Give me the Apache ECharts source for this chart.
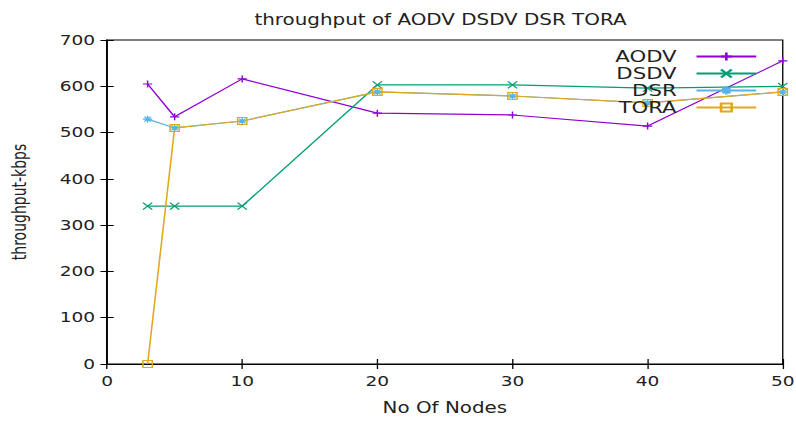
<!DOCTYPE html>
<html>
<head>
<meta charset="utf-8">
<script src="https://cdn.jsdelivr.net/npm/echarts@6/dist/echarts.min.js"></script>
<style>
  html, body { margin: 0; padding: 0; background: #fff; overflow: hidden; }
  /* the reference is a 600px wide plot stretched to 796px, so draw at 600 and stretch */
  #chart { width: 600px; height: 421px; transform: scaleX(1.3267); transform-origin: 0 0; }
</style>
</head>
<body>
<div id="chart"></div>
<script>
const nodes = [3, 5, 10, 20, 30, 40, 50];
const aodv = [605, 534, 616, 542, 538, 514, 655];
const dsdv = [341, 341, 341, 603, 603, 596, 600];
const dsr = [529, 510, 525, 588, 579, 564, 588];
const tora = [0, 510, 525, 588, 579, 564, 588];

const font = 'DejaVu Sans';
const plus = 'path://M0,5L10,5M5,0L5,10';
const cross = 'path://M0,0L10,10M10,0L0,10';
const star = 'path://M0,5L10,5M5,0L5,10M1.5,1.5L8.5,8.5M8.5,1.5L1.5,8.5';
const box = 'path://M0,0L10,0L10,10L0,10Z';

function pairs(vals) {
  return nodes.map((n, i) => [n, vals[i]]);
}

function makeSeries(name, vals, color, symbol) {
  return {
    name: name,
    type: 'line',
    data: pairs(vals),
    symbol: symbol,
    symbolSize: 7,
    showAllSymbol: true,
    lineStyle: { color: color, width: 1.2 },
    itemStyle: { color: 'rgba(0,0,0,0)', borderColor: color, borderWidth: 1.1 },
    emphasis: { disabled: true },
    animation: false
  };
}

const tickStyle = { inside: true, length: 5, lineStyle: { color: '#000' } };

const chart = echarts.init(document.getElementById('chart'), null, { renderer: 'svg' });
chart.setOption({
  animation: false,
  title: {
    text: 'throughput of AODV DSDV DSR TORA',
    left: 327, top: 7, textAlign: 'center',
    textStyle: { fontFamily: font, fontSize: 15, fontWeight: 'normal', color: '#222' }
  },
  legend: {
    orient: 'vertical',
    right: 24, top: 43,
    align: 'right',
    itemWidth: 45, itemHeight: 10, itemGap: 0,
    textStyle: { fontFamily: font, fontSize: 16, lineHeight: 17, color: '#222', padding: [0, 10, 0, 0] },
    data: ['AODV', 'DSDV', 'DSR', 'TORA']
  },
  grid: {
    left: 80.7, right: 10, top: 40, bottom: 57,
    outerBoundsMode: 'none',
    show: true, borderColor: '#000', borderWidth: 1
  },
  xAxis: [{
    type: 'value', min: 0, max: 50, interval: 10,
    name: 'No Of Nodes', nameLocation: 'middle', nameGap: 36,
    nameTextStyle: { fontFamily: font, fontSize: 15, color: '#222' },
    axisLine: { show: true, lineStyle: { color: '#000' } },
    axisTick: tickStyle,
    axisLabel: { fontFamily: font, fontSize: 14, color: '#222', margin: 10 },
    splitLine: { show: false }
  }, {
    type: 'value', min: 0, max: 50, interval: 10, position: 'top',
    axisLine: { show: true, lineStyle: { color: '#000' } },
    axisTick: tickStyle,
    axisLabel: { show: false },
    splitLine: { show: false }
  }],
  yAxis: [{
    type: 'value', min: 0, max: 700, interval: 100,
    name: 'throughput-kbps', nameLocation: 'middle', nameGap: 59,
    nameTextStyle: { fontFamily: font, fontSize: 14, color: '#222' },
    axisLine: { show: true, lineStyle: { color: '#000' } },
    axisTick: Object.assign({ show: true }, tickStyle),
    axisLabel: { fontFamily: font, fontSize: 14, color: '#222', margin: 9 },
    splitLine: { show: false }
  }, {
    type: 'value', min: 0, max: 700, interval: 100, position: 'right',
    axisLine: { show: true, lineStyle: { color: '#000' } },
    axisTick: Object.assign({ show: true }, tickStyle),
    axisLabel: { show: false },
    splitLine: { show: false }
  }],
  series: [
    makeSeries('AODV', aodv, '#9400d3', plus),
    makeSeries('DSDV', dsdv, '#009e73', cross),
    makeSeries('DSR', dsr, '#56b4e9', star),
    makeSeries('TORA', tora, '#e0a820', box)
  ]
});
</script>
</body>
</html>
